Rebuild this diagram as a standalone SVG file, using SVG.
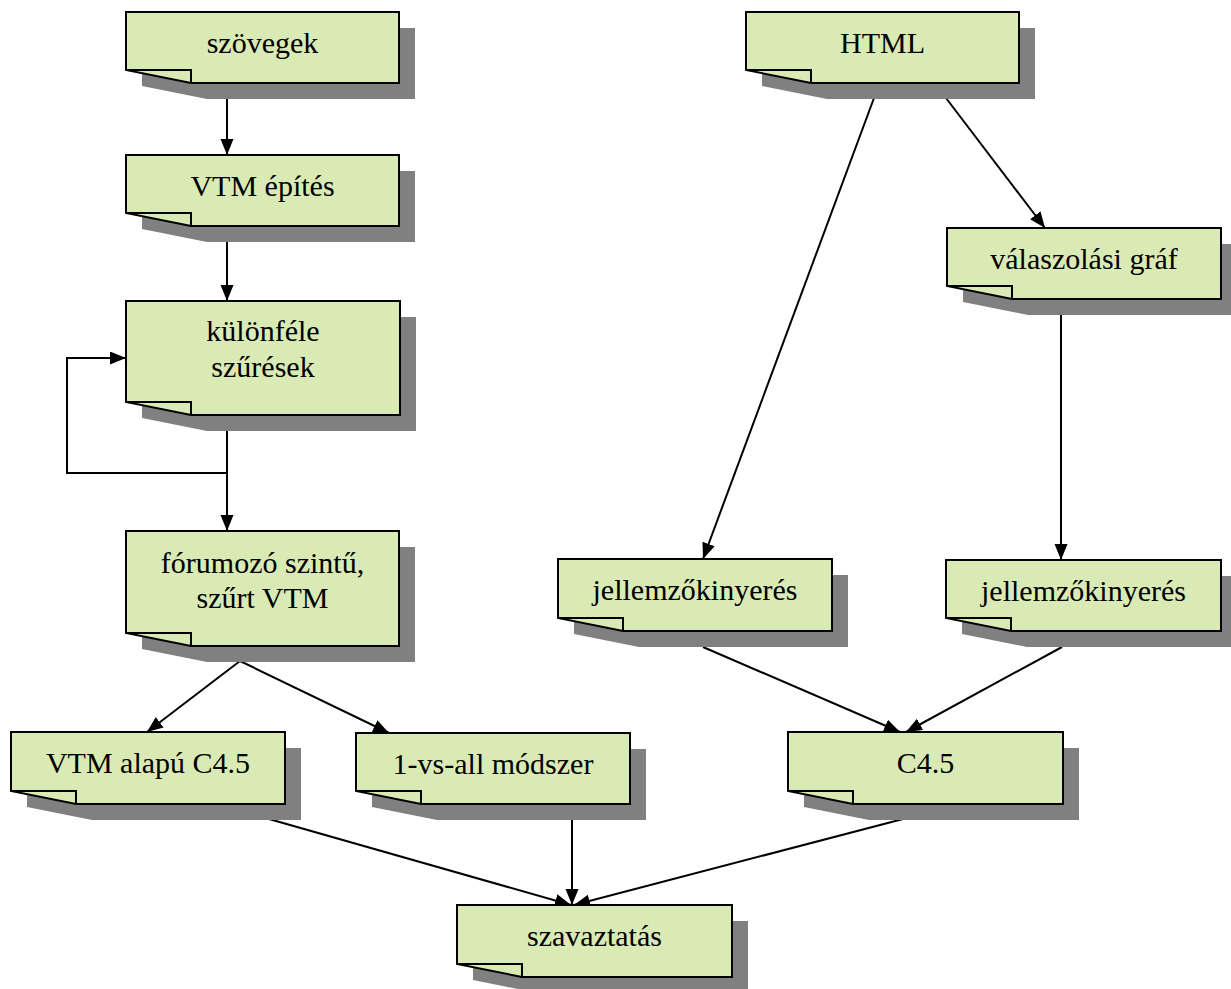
<svg xmlns="http://www.w3.org/2000/svg" width="1231" height="989" viewBox="0 0 1231 989">
<style>
.sh{fill:#808080;stroke:none}
.bx{fill:#d9eab5;stroke:#000;stroke-width:2;stroke-linejoin:miter}
.fd{fill:none;stroke:#000;stroke-width:2}
.tx{font-family:'Liberation Serif','DejaVu Serif',serif;font-size:30px;fill:#000;text-anchor:middle}
.cn{fill:none;stroke:#000;stroke-width:2}
</style>
<defs>
<marker id="ah" markerUnits="userSpaceOnUse" markerWidth="18" markerHeight="14" refX="16" refY="6.5" orient="auto">
<path d="M0,0 L16,6.5 L0,13 Z" fill="#000"/>
</marker>
</defs>
<g id="connectors">
<line class="cn" x1="227" y1="98" x2="227" y2="155" marker-end="url(#ah)"/>
<line class="cn" x1="227" y1="242" x2="227" y2="301" marker-end="url(#ah)"/>
<line class="cn" x1="227" y1="431" x2="227" y2="531" marker-end="url(#ah)"/>
<polyline class="cn" points="227,473 67,473 67,358 126,358" marker-end="url(#ah)"/>
<line class="cn" x1="240" y1="661" x2="147" y2="732" marker-end="url(#ah)"/>
<line class="cn" x1="240" y1="661" x2="389" y2="733" marker-end="url(#ah)"/>
<line class="cn" x1="269" y1="819" x2="571" y2="905" marker-end="url(#ah)"/>
<line class="cn" x1="572" y1="819" x2="572" y2="905" marker-end="url(#ah)"/>
<line class="cn" x1="903" y1="819" x2="574" y2="905" marker-end="url(#ah)"/>
<line class="cn" x1="874" y1="98" x2="703" y2="559" marker-end="url(#ah)"/>
<line class="cn" x1="946" y1="98" x2="1045" y2="228" marker-end="url(#ah)"/>
<line class="cn" x1="1061" y1="314" x2="1061" y2="560" marker-end="url(#ah)"/>
<line class="cn" x1="703" y1="647" x2="900" y2="732" marker-end="url(#ah)"/>
<line class="cn" x1="1062" y1="647" x2="906" y2="732" marker-end="url(#ah)"/>
</g>
<g id="n-szovegek">
<path class="sh" d="M142,28 H415 V99 H207 L142,86 Z"/>
<path class="bx" d="M126,12 H399 V83 H191 L126,70 Z"/>
<path class="fd" d="M126,70 H191 V83"/>
<text class="tx" x="262.5" y="53">szövegek</text>
</g>
<g id="n-vtm-epites">
<path class="sh" d="M142,171 H415 V242 H207 L142,229 Z"/>
<path class="bx" d="M126,155 H399 V226 H191 L126,213 Z"/>
<path class="fd" d="M126,213 H191 V226"/>
<text class="tx" x="262.5" y="196">VTM építés</text>
</g>
<g id="n-kulonfele">
<path class="sh" d="M142,317 H416 V431 H207 L142,418 Z"/>
<path class="bx" d="M126,301 H400 V415 H191 L126,402 Z"/>
<path class="fd" d="M126,402 H191 V415"/>
<text class="tx" x="263" y="341">különféle</text>
<text class="tx" x="263" y="377">szűrések</text>
</g>
<g id="n-forumozo">
<path class="sh" d="M142,547 H415 V662 H207 L142,649 Z"/>
<path class="bx" d="M126,531 H399 V646 H191 L126,633 Z"/>
<path class="fd" d="M126,633 H191 V646"/>
<text class="tx" x="262.5" y="573">fórumozó szintű,</text>
<text class="tx" x="262.5" y="608">szűrt VTM</text>
</g>
<g id="n-vtm-alapu">
<path class="sh" d="M27,748 H301 V820 H92 L27,807 Z"/>
<path class="bx" d="M11,732 H285 V804 H76 L11,791 Z"/>
<path class="fd" d="M11,791 H76 V804"/>
<text class="tx" x="148" y="773">VTM alapú C4.5</text>
</g>
<g id="n-1vsall">
<path class="sh" d="M372,749 H646 V820 H437 L372,807 Z"/>
<path class="bx" d="M356,733 H630 V804 H421 L356,791 Z"/>
<path class="fd" d="M356,791 H421 V804"/>
<text class="tx" x="493" y="774">1-vs-all módszer</text>
</g>
<g id="n-c45">
<path class="sh" d="M804,748 H1079 V820 H869 L804,807 Z"/>
<path class="bx" d="M788,732 H1063 V804 H853 L788,791 Z"/>
<path class="fd" d="M788,791 H853 V804"/>
<text class="tx" x="925.5" y="773">C4.5</text>
</g>
<g id="n-szavaztatas">
<path class="sh" d="M473,921 H748 V993 H538 L473,980 Z"/>
<path class="bx" d="M457,905 H732 V977 H522 L457,964 Z"/>
<path class="fd" d="M457,964 H522 V977"/>
<text class="tx" x="594.5" y="946">szavaztatás</text>
</g>
<g id="n-html">
<path class="sh" d="M762,28 H1035 V99 H827 L762,86 Z"/>
<path class="bx" d="M746,12 H1019 V83 H811 L746,70 Z"/>
<path class="fd" d="M746,70 H811 V83"/>
<text class="tx" x="882.5" y="53">HTML</text>
</g>
<g id="n-valaszolasi">
<path class="sh" d="M963,244 H1237 V315 H1028 L963,302 Z"/>
<path class="bx" d="M947,228 H1221 V299 H1012 L947,286 Z"/>
<path class="fd" d="M947,286 H1012 V299"/>
<text class="tx" x="1084" y="269">válaszolási gráf</text>
</g>
<g id="n-jellemzo-1">
<path class="sh" d="M574,575 H848 V647 H639 L574,634 Z"/>
<path class="bx" d="M558,559 H832 V631 H623 L558,618 Z"/>
<path class="fd" d="M558,618 H623 V631"/>
<text class="tx" x="695" y="600">jellemzőkinyerés</text>
</g>
<g id="n-jellemzo-2">
<path class="sh" d="M962,576 H1237 V647 H1027 L962,634 Z"/>
<path class="bx" d="M946,560 H1221 V631 H1011 L946,618 Z"/>
<path class="fd" d="M946,618 H1011 V631"/>
<text class="tx" x="1083.5" y="601">jellemzőkinyerés</text>
</g>
</svg>
